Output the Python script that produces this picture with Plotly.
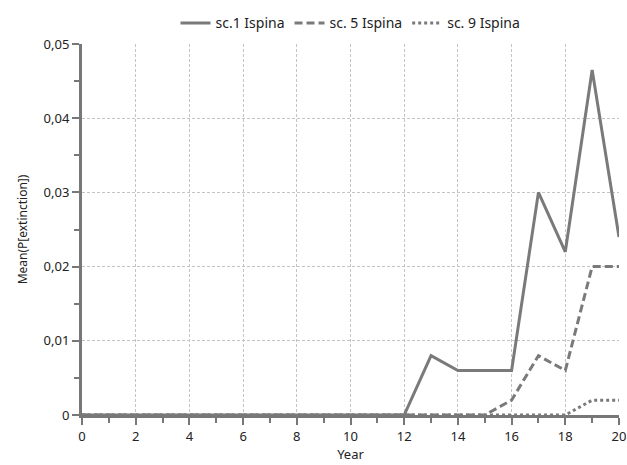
import plotly.graph_objects as go

years = list(range(0, 21))
sc1 = [0]*13 + [0.008, 0.006, 0.006, 0.006, 0.030, 0.022, 0.0465, 0.024]
sc5 = [0]*16 + [0.002, 0.008, 0.006, 0.020, 0.020]
sc9 = [0]*19 + [0.002, 0.002]
names = ["sc.1 Ispina", "sc. 5 Ispina", "sc. 9 Ispina"]
dashes = ["solid", "8px,4px", "3px,3px"]
ytick_vals = [0, 0.01, 0.02, 0.03, 0.04, 0.05]
ytick_text = ["0", "0,01", "0,02", "0,03", "0,04", "0,05"]
xtick_vals = list(range(0, 21, 2))

fig = go.Figure()
for s, n, d in zip([sc1, sc5, sc9], names, dashes):
    fig.add_trace(go.Scatter(x=years, y=s, mode="lines", name=n,
                             line=dict(color="#7a7a7a", width=3, dash=d)))

axis_common = dict(
    showgrid=True, gridcolor="#c4c4c4", griddash="3px,2px", gridwidth=1,
    showline=True, linecolor="#777777", linewidth=3,
    ticks="outside", ticklen=7, tickwidth=2, tickcolor="#777777",
    zeroline=False, automargin=False, fixedrange=True,
    tickfont=dict(size=13, color="#222"),
)

fig.update_layout(
    width=627, height=465,
    margin=dict(l=82, r=8, t=43, b=50),
    paper_bgcolor="white", plot_bgcolor="white",
    font=dict(family="Noto Sans", size=13, color="#222"),
    showlegend=True,
    legend=dict(orientation="h", x=0.5, xanchor="center", y=1.01, yanchor="bottom",
                font=dict(size=14, color="#222"), bgcolor="rgba(0,0,0,0)"),
    xaxis=dict(range=[0, 20], tickvals=xtick_vals,
               minor=dict(dtick=1, ticks="outside", ticklen=5, tickwidth=2,
                          tickcolor="#777777", showgrid=False),
               title=dict(text="Year", standoff=4, font=dict(size=13)),
               **axis_common),
    yaxis=dict(range=[0, 0.05], tickvals=ytick_vals, ticktext=ytick_text,
               minor=dict(dtick=0.005, ticks="outside", ticklen=5, tickwidth=2,
                          tickcolor="#777777", showgrid=False),
               title=dict(text="Mean(P[extinction])", standoff=14,
                          font=dict(size=12)),
               **axis_common),
)
fig.write_html("out.html", config={"displayModeBar": False},
               post_script="document.body.style.margin='0';document.body.style.overflow='hidden';")
